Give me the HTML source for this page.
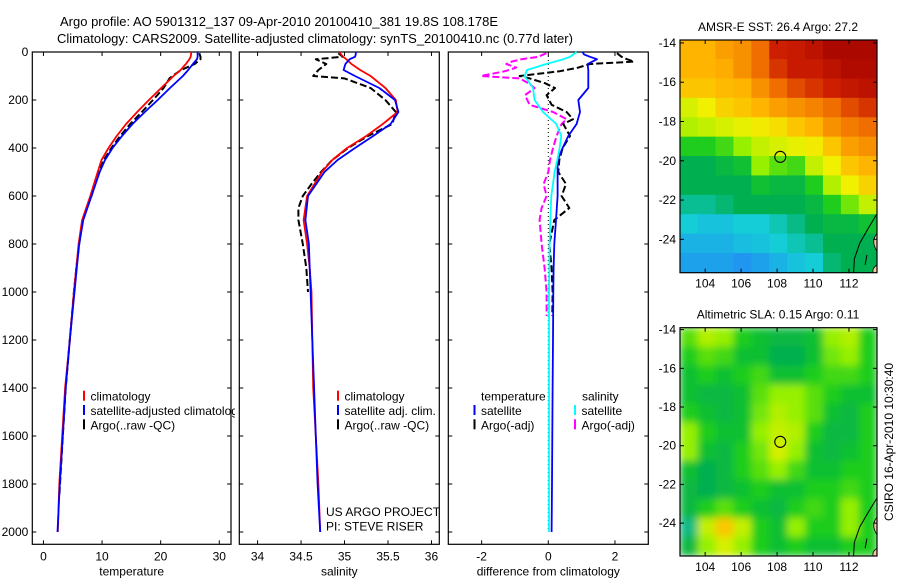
<!DOCTYPE html>
<html><head><meta charset="utf-8"><style>
html,body{margin:0;padding:0;background:#fff;}
svg{display:block;font-family:"Liberation Sans",sans-serif;}
</style></head><body>
<svg id="fig" width="900" height="580" viewBox="0 0 900 580" xmlns="http://www.w3.org/2000/svg">
<defs>
<clipPath id="clipL1"><rect x="0" y="0" width="235" height="580"/></clipPath>
<clipPath id="clipM1"><rect x="680" y="40" width="197" height="233"/></clipPath>
<clipPath id="clipM2"><rect x="680" y="328" width="197" height="228"/></clipPath>
<filter id="blur" x="0" y="0" width="1" height="1"><feGaussianBlur stdDeviation="4"/></filter>
</defs>
<text x="60" y="26" font-size="13">Argo profile: AO 5901312_137 09-Apr-2010 20100410_381 19.8S 108.178E</text>
<text x="57" y="43" font-size="13">Climatology: CARS2009. Satellite-adjusted climatology: synTS_20100410.nc (0.77d later)</text>
<g id="g"></g>
</svg>
<script>
// ---------- data ----------
const depths = [0,10,20,30,50,75,100,150,200,250,300,350,400,450,500,600,700,800,900,1000,1200,1400,1600,1800,2000];
const tempClim = [25.2,25.2,25.1,24.9,24.3,23.4,22.2,20.1,18.0,16.0,14.1,12.5,11.1,9.9,9.25,8.0,6.6,6.0,5.6,5.2,4.5,3.7,3.2,2.7,2.45];
const tempSat  = [26.3,26.3,26.3,26.2,25.5,24.7,23.8,21.6,19.5,17.3,15.2,13.4,11.8,10.5,9.6,8.2,6.8,6.1,5.7,5.3,4.5,3.8,3.3,2.8,2.4];
const argoDepths = [5,20,30,50,75,100,110,150,200,250,300,350,400,450,500,550,600,650,700,800,900,1000,1200,1400,1600,1850];
const tempArgo = [26.6,26.8,26.8,25.8,23.5,22.0,21.5,20.5,18.7,16.8,14.8,13.1,11.6,10.3,9.4,8.8,8.2,7.4,6.7,6.1,5.6,5.2,4.5,3.8,3.3,2.7];
const salClim = [34.94,34.96,34.985,35.02,35.08,35.18,35.30,35.47,35.59,35.61,35.44,35.25,35.03,34.86,34.74,34.57,34.53,34.57,34.60,34.62,34.63,34.64,34.67,34.70,34.72];
const salSat  = [35.13,35.13,35.12,35.06,35.01,34.99,35.12,35.40,35.58,35.62,35.53,35.33,35.12,34.92,34.77,34.58,34.55,34.59,34.60,34.61,34.63,34.65,34.67,34.69,34.72];
const salArgo = [34.93,34.98,34.67,34.79,34.70,34.64,35.0,35.3,35.47,35.59,35.55,35.27,35.04,34.86,34.73,34.62,34.52,34.47,34.47,34.52,34.56,34.58];
const dTsat = [1.03,1.07,1.25,1.46,1.18,1.2,1.2,1.2,0.9,0.95,0.85,0.6,0.43,0.28,0.28,0.28,0.23,0.18,0.16,0.15,0.14,0.13,0.12,0.11,0.1];
const dSsat = [0.85,0.75,0.65,0.45,-0.06,-0.64,-0.71,-0.46,-0.41,-0.16,0.24,0.39,0.34,0.27,0.19,0.09,0.06,0.04,0.03,0.02,0.02,0.02,0.02,0.02,0.02];
const dArgoDepths = [5,20,30,40,50,65,80,100,110,130,150,180,220,250,280,300,350,400,450,500,550,600,650,700,800,900,1000,1100];
const dTargo = [2.06,2.2,2.36,2.57,1.25,0.9,0.35,-0.86,-0.56,-0.1,0.2,-0.05,0.1,0.55,0.74,0.45,0.65,0.43,0.33,0.3,0.53,0.4,0.63,0.18,0.03,0.1,0.13,0.12];
const dSargo = [-0.06,-0.3,-0.8,-1.1,-1.26,-0.96,-1.3,-2.02,-0.86,-0.6,-0.41,-0.7,-0.56,0.14,0.55,0.4,0.25,0.14,0.05,0.0,-0.14,-0.05,-0.2,-0.26,-0.2,-0.11,-0.05,-0.05];
const yTicks = [0,200,400,600,800,1000,1200,1400,1600,1800,2000];
const tTicks = [0,10,20,30];
const sTicks = [34,34.5,35,35.5,36];
const dTicks = [-2,0,2];
const lonTicks = [104,106,108,110,112];
const latTicks = [-14,-16,-18,-20,-22,-24];
// SST grid rows from -14 (top) to -25.7 (bottom), cols 102.6..113.6 (normalized colour value)
const sstGrid = [
[0.75,0.75,0.78,0.8,0.85,0.92,0.93,0.95,0.98,0.98,0.98],
[0.75,0.75,0.76,0.8,0.85,0.9,0.93,0.93,0.95,0.97,0.97],
[0.72,0.72,0.74,0.75,0.8,0.85,0.88,0.9,0.92,0.94,0.95],
[0.62,0.65,0.7,0.72,0.75,0.78,0.8,0.82,0.85,0.88,0.9],
[0.58,0.6,0.62,0.64,0.66,0.68,0.72,0.75,0.8,0.83,0.85],
[0.45,0.45,0.48,0.55,0.6,0.62,0.64,0.66,0.72,0.78,0.8],
[0.38,0.38,0.4,0.42,0.55,0.5,0.48,0.6,0.65,0.72,0.75],
[0.38,0.38,0.38,0.38,0.42,0.4,0.4,0.45,0.58,0.65,0.7],
[0.34,0.34,0.36,0.38,0.38,0.38,0.38,0.4,0.45,0.52,0.6],
[0.3,0.28,0.28,0.3,0.3,0.32,0.35,0.38,0.4,0.4,0.42],
[0.25,0.25,0.25,0.27,0.28,0.3,0.32,0.34,0.38,0.38,0.38],
[0.22,0.22,0.22,0.2,0.22,0.25,0.28,0.3,0.36,0.38,0.38]];
const slaGrid = [
[0.5,0.58,0.55,0.45,0.42,0.4,0.4,0.42,0.55,0.58,0.45],
[0.45,0.5,0.48,0.42,0.42,0.38,0.38,0.42,0.52,0.55,0.45],
[0.42,0.45,0.42,0.45,0.48,0.42,0.42,0.45,0.48,0.48,0.45],
[0.42,0.4,0.4,0.42,0.5,0.55,0.55,0.5,0.45,0.42,0.42],
[0.45,0.42,0.4,0.42,0.52,0.58,0.55,0.5,0.42,0.4,0.45],
[0.55,0.45,0.42,0.42,0.55,0.6,0.58,0.45,0.4,0.4,0.45],
[0.55,0.42,0.4,0.45,0.52,0.62,0.55,0.42,0.4,0.42,0.45],
[0.42,0.38,0.4,0.45,0.5,0.55,0.48,0.42,0.42,0.45,0.45],
[0.4,0.38,0.4,0.42,0.45,0.42,0.42,0.45,0.45,0.48,0.45],
[0.4,0.45,0.5,0.45,0.42,0.4,0.45,0.48,0.45,0.55,0.45],
[0.35,0.6,0.72,0.6,0.45,0.42,0.55,0.45,0.45,0.55,0.45],
[0.4,0.55,0.62,0.55,0.45,0.42,0.45,0.42,0.42,0.45,0.45]];
const argoLon = 108.178, argoLat = -19.8;

// ---------- helpers ----------
const NS="http://www.w3.org/2000/svg";
const G=document.getElementById('g');
function mk(tag,attrs,parent){const e=document.createElementNS(NS,tag);for(const k in attrs)e.setAttribute(k,attrs[k]);(parent||G).appendChild(e);return e;}
const Y0=52, YS=0.24, YB=544.3;
const yD=d=>Y0+d*YS;
const panels=[
 {x0:32.3,x1:231,min:-1.9,max:32,ticks:tTicks,label:'temperature',name:'temperature-panel'},
 {x0:239.3,x1:439.3,min:33.79,max:36.09,ticks:sTicks,label:'salinity',name:'salinity-panel'},
 {x0:448.3,x1:648.3,min:-3,max:3,ticks:dTicks,label:'difference from climatology',name:'difference-panel'}];
panels.forEach(p=>p.sx=v=>p.x0+(v-p.min)/(p.max-p.min)*(p.x1-p.x0));

panels.forEach((p,i)=>{
  const g=mk('g',{});
  
  
  mk('rect',{x:p.x0,y:Y0,width:p.x1-p.x0,height:YB-Y0,fill:'none',stroke:'#000','stroke-width':1.2},g);
  p.ticks.forEach(t=>{const x=p.sx(t);
    mk('line',{x1:x,x2:x,y1:YB,y2:YB-4,stroke:'#000'},g);
    mk('line',{x1:x,x2:x,y1:Y0,y2:Y0+4,stroke:'#000'},g);
    const tx=mk('text',{x:x,y:YB+16,'font-size':12,'text-anchor':'middle'},g);tx.textContent=String(t);
    
    
  });
  yTicks.forEach(t=>{const y=yD(t);
    mk('line',{x1:p.x0,x2:p.x0+4,y1:y,y2:y,stroke:'#000'},g);
    mk('line',{x1:p.x1,x2:p.x1-4,y1:y,y2:y,stroke:'#000'},g);
    if(i===0){const tx=mk('text',{x:p.x0-4,y:y+4,'font-size':12,'text-anchor':'end'},g);tx.textContent=String(t);
      
      }
  });
  const xl=mk('text',{x:(p.x0+p.x1)/2,y:YB+31,'font-size':12,'text-anchor':'middle'},g);xl.textContent=p.label;
  
  
});

function line(p,vals,ds,color,w,dash,name){
  const pts=vals.map((v,k)=>p.sx(v).toFixed(1)+','+yD(ds[k]).toFixed(1)).join(' ');
  const e=mk('polyline',{points:pts,fill:'none',stroke:color,'stroke-width':w,'stroke-linejoin':'round'});
  if(dash)e.setAttribute('stroke-dasharray',dash);
  
  
}
const P1=panels[0],P2=panels[1],P3=panels[2];
line(P1,tempArgo,argoDepths,'#000',2,'7,3','temperature-argo-line');
line(P1,tempClim,depths,'#f00',1.8,null,'temperature-climatology-line');
line(P1,tempSat,depths,'#00f',1.8,null,'temperature-satellite-line');
line(P2,salArgo,argoDepths.slice(0,salArgo.length),'#000',2,'7,3','salinity-argo-line');
line(P2,salClim,depths,'#f00',1.8,null,'salinity-climatology-line');
line(P2,salSat,depths,'#00f',1.8,null,'salinity-satellite-line');
// zero line
const z=mk('line',{x1:P3.sx(0),x2:P3.sx(0),y1:yD(0),y2:yD(2000),stroke:'#000','stroke-width':1,'stroke-dasharray':'1,3'});


line(P3,dSargo,dArgoDepths,'#f0f',2,'7,3','salinity-argo-difference-line');
line(P3,dTargo,dArgoDepths,'#000',2,'7,3','temperature-argo-difference-line');
line(P3,dTsat,depths,'#00f',1.8,null,'temperature-satellite-difference-line');
line(P3,dSsat,depths,'#0ff',1.8,null,'salinity-satellite-difference-line');

function legend(x,y,color,text,name,clip){
  const g=mk('g',{});
  if(clip)g.setAttribute('clip-path','url(#clipL1)');
  
  
  mk('line',{x1:x,x2:x,y1:y-10,y2:y,stroke:color,'stroke-width':2},g);
  const t=mk('text',{x:x+6.5,y:y,'font-size':12},g);t.textContent=text;
}
legend(84,400.7,'#f00','climatology','legend-entry-climatology',true);
legend(84,415,'#00f','satellite-adjusted climatology','legend-entry-satellite-adjusted',true);
legend(84,429.3,'#000','Argo(..raw -QC)','legend-entry-argo',true);
legend(338,400.7,'#f00','climatology','legend-entry-climatology');
legend(338,415,'#00f','satellite adj. clim.','legend-entry-satellite-adj');
legend(338,429.3,'#000','Argo(..raw -QC)','legend-entry-argo');
function txt(x,y,s,name,anchor){const t=mk('text',{x:x,y:y,'font-size':12,'text-anchor':anchor||'start'});t.textContent=s;
  
  return t;}
txt(481,400.7,'temperature','legend-heading-temperature');
txt(582,400.7,'salinity','legend-heading-salinity');
legend(474.5,415,'#00f','satellite','legend-entry-temperature-satellite');
legend(474.5,429.3,'#000','Argo(-adj)','legend-entry-temperature-argo');
legend(575,415,'#0ff','satellite','legend-entry-salinity-satellite');
legend(575,429.3,'#f0f','Argo(-adj)','legend-entry-salinity-argo');
txt(326,516,'US ARGO PROJECT','project-label');
txt(326,530.5,'PI: STEVE RISER','pi-label');

// ---------- maps ----------
const stops=[[0,[0,0,255]],[0.2,[32,150,240]],[0.3,[20,205,215]],[0.38,[0,175,80]],[0.45,[30,205,30]],[0.55,[150,240,0]],[0.65,[240,240,0]],[0.75,[255,180,0]],[0.85,[240,110,0]],[0.92,[205,30,0]],[1,[160,0,0]]];
function cmap(v){for(let i=1;i<stops.length;i++){if(v<=stops[i][0]){const a=stops[i-1],b=stops[i],f=(v-a[0])/(b[0]-a[0]);const c=a[1].map((q,k)=>Math.round(q+(b[1][k]-q)*f));return 'rgb('+c.join(',')+')';}}return 'rgb(160,0,0)';}
const LON0=102.6,LON1=113.56;
function drawMap(top,bottom,latTop,latBot,grid,title,name,clipId,smooth){
  const sx=l=>680+(l-LON0)/(LON1-LON0)*197;
  const sy=l=>top+(latTop-l)/(latTop-latBot)*(bottom-top);
  const g=mk('g',{});
  
  
  const cg=mk('g',{'clip-path':'url(#'+clipId+')'},g);
  const inner=mk('g',smooth?{filter:'url(#blur)'}:{},cg);
  const rows=grid.length,cols=grid[0].length;
  const cw=(LON1-LON0)/cols,ch=(latTop-latBot)/rows;
  grid.forEach((row,r)=>row.forEach((v,c)=>{
    const x=sx(LON0+c*cw),y=sy(latTop-r*ch);
    const cell=mk('rect',{x:x-0.3,y:y-0.3,width:sx(LON0+(c+1)*cw)-x+0.6,height:sy(latTop-(r+1)*ch)-y+0.6,fill:cmap(v)},inner);
    
    
  }));
  // coast
  mk('path',{d:`M${sx(113.56)},${sy(-22.7)} L${sx(113.1)},${sy(-23.4)} L${sx(112.6)},${sy(-24.2)} L${sx(112.3)},${sy(-25)} L${sx(112.25)},${sy(-25.8)}`,fill:'none',stroke:'#000','stroke-width':1},cg);
  mk('path',{d:`M${sx(113.56)},${sy(-23.7)} Q${sx(113.2)},${sy(-24.1)} ${sx(113.56)},${sy(-24.6)} Z`,fill:'#f5c8a0',stroke:'#000','stroke-width':0.8},cg);
  mk('path',{d:`M${sx(113.56)},${sy(-25.3)} Q${sx(113.1)},${sy(-25.6)} ${sx(113.56)},${sy(-25.9)} Z`,fill:'#f5c8a0',stroke:'#000','stroke-width':0.8},cg);
  mk('line',{x1:sx(113.0),x2:sx(112.9),y1:sy(-24.8),y2:sy(-25.3),stroke:'#000','stroke-width':1},cg);
  const m=mk('circle',{cx:sx(argoLon),cy:sy(argoLat),r:5.5,fill:'none',stroke:'#000','stroke-width':1.1},g);
  
  
  mk('rect',{x:680,y:top,width:197,height:bottom-top,fill:'none',stroke:'#000','stroke-width':1.2},g);
  lonTicks.forEach(l=>{const x=sx(l);mk('line',{x1:x,x2:x,y1:bottom,y2:bottom-4,stroke:'#000'},g);mk('line',{x1:x,x2:x,y1:top,y2:top+4,stroke:'#000'},g);
    const t=mk('text',{x:x,y:bottom+15,'font-size':12,'text-anchor':'middle'},g);t.textContent=String(l);
    
    });
  latTicks.forEach(l=>{const y=sy(l);mk('line',{x1:680,x2:684,y1:y,y2:y,stroke:'#000'},g);mk('line',{x1:877,x2:873,y1:y,y2:y,stroke:'#000'},g);
    const t=mk('text',{x:676,y:y+4,'font-size':12,'text-anchor':'end'},g);t.textContent=String(l);
    
    });
  const tt=mk('text',{x:778,y:top-9,'font-size':12,'text-anchor':'middle'},g);tt.textContent=title;
  
  
}
drawMap(40,272.7,-13.85,-25.7,sstGrid,'AMSR-E SST: 26.4 Argo: 27.2','sst-map','clipM1',false);
drawMap(327.7,556,-13.9,-25.7,slaGrid,'Altimetric SLA: 0.15 Argo: 0.11','sla-map','clipM2',true);
const cs=mk('text',{x:0,y:0,'font-size':12,'text-anchor':'middle',transform:'translate(893,442) rotate(-90)'});
cs.textContent='CSIRO 16-Apr-2010 10:30:40';


</script>
</body></html>
